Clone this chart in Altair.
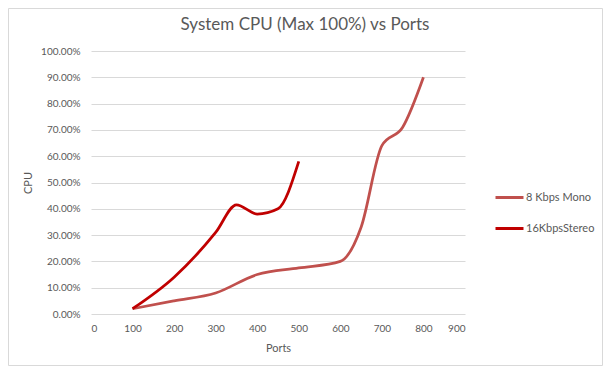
import altair as alt
import pandas as pd

# ---- data ----
mono_ports = [100, 200, 300, 400, 500, 600, 650, 700, 750, 800]
mono_cpu = [0.02, 0.05, 0.08, 0.15, 0.175, 0.20, 0.33, 0.64, 0.71, 0.90]

stereo_ports = [100, 200, 300, 350, 400, 450, 500]
stereo_cpu = [0.02, 0.14, 0.31, 0.415, 0.38, 0.40, 0.58]

series_names = ["8 Kbps Mono", "16KbpsStereo"]
series_colors = ["#C0504D", "#C00000"]

x_ticks = [0, 100, 200, 300, 400, 500, 600, 700, 800, 900]
y_ticks = [0.0, 0.1, 0.2, 0.3, 0.4, 0.5, 0.6, 0.7, 0.8, 0.9, 1.0]

rows = []
for p, c in zip(mono_ports, mono_cpu):
    rows.append({"Ports": p, "CPU": c, "Series": series_names[0], "order": 0})
for p, c in zip(stereo_ports, stereo_cpu):
    rows.append({"Ports": p, "CPU": c, "Series": series_names[1], "order": 1})
df = pd.DataFrame(rows)

FONT = "Lato"
GRAY = "#595959"

W, H = 374, 263
PAD_L, PAD_T = 83, 43
TOTAL_W, TOTAL_H = 595, 358

lines = alt.Chart(df).mark_line(interpolate="monotone", strokeWidth=2.75).encode(
    x=alt.X("Ports:Q",
            scale=alt.Scale(domain=[0, 900], nice=False),
            axis=alt.Axis(values=x_ticks, title="Ports", grid=False, ticks=False,
                          domain=False, labelPadding=9, titlePadding=9)),
    y=alt.Y("CPU:Q",
            scale=alt.Scale(domain=[0, 1], nice=False),
            axis=alt.Axis(values=y_ticks, format=".2%", title="CPU", grid=True,
                          ticks=False, domain=False, labelPadding=11,
                          titleX=-58, titleY=H / 2)),
    color=alt.Color("Series:N",
                    scale=alt.Scale(domain=series_names, range=series_colors),
                    legend=alt.Legend(title=None, orient="none", legendX=403, legendY=131,
                                      symbolType="stroke", symbolSize=784,
                                      symbolStrokeWidth=3, labelOffset=1,
                                      rowPadding=9, labelFontSize=11)),
    detail="Series:N",
    order="Ports:Q",
)

border = alt.Chart(alt.Data(values=[{}])).mark_rect(
    fill=None, stroke="#D9D9D9", strokeWidth=1
).encode(
    x=alt.value(-PAD_L + 0.5), x2=alt.value(TOTAL_W - PAD_L - 0.5),
    y=alt.value(-PAD_T + 0.5), y2=alt.value(TOTAL_H - PAD_T - 0.5),
)

chart = alt.layer(border, lines).properties(
    width=W, height=H,
    title=alt.TitleParams(text="System CPU (Max 100%) vs Ports", font=FONT, fontSize=17,
                          fontWeight="normal", color=GRAY, anchor="middle", dx=27,
                          baseline="middle", offset=0, dy=34),
    autosize=alt.AutoSizeParams(type="none"),
    padding={"left": PAD_L, "top": PAD_T,
             "right": TOTAL_W - PAD_L - W, "bottom": TOTAL_H - PAD_T - H},
).configure_view(stroke=None).configure_axis(
    labelFont=FONT, titleFont=FONT, labelFontSize=10, titleFontSize=11,
    labelColor=GRAY, titleColor=GRAY, titleFontWeight="normal",
    gridColor="#D9D9D9", gridWidth=1,
).configure_legend(
    labelFont=FONT, labelColor=GRAY,
)

chart.save("out.html", embed_options={"renderer": "svg", "actions": False})
